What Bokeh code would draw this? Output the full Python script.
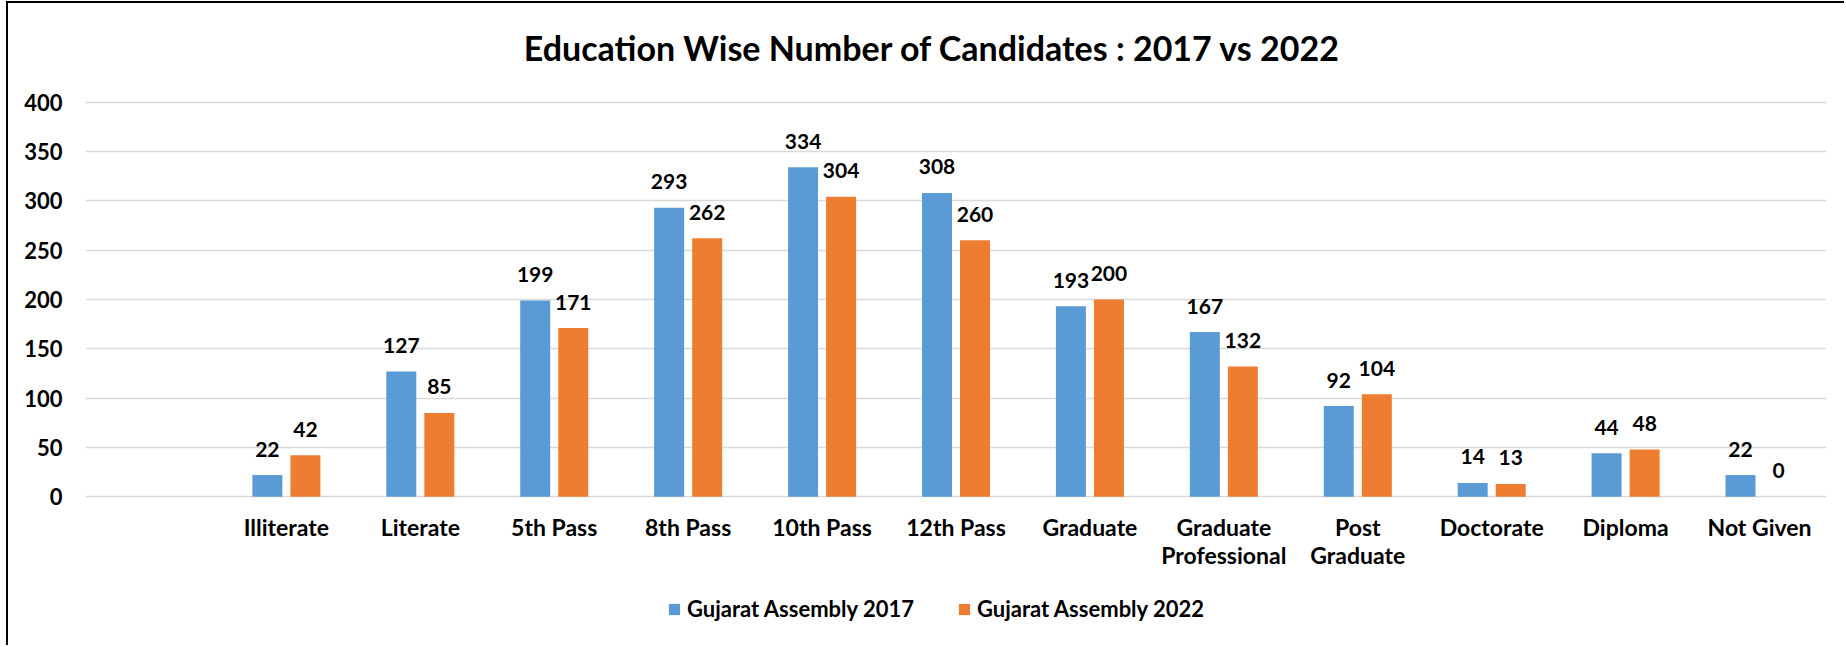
import numpy as np
from bokeh.plotting import figure
from bokeh.models import FixedTicker, Label, Range1d, ColumnDataSource
from bokeh.core.properties import value
from bokeh.embed import file_html
from bokeh.resources import INLINE

categories = ["Illiterate", "Literate", "5th Pass", "8th Pass", "10th Pass", "12th Pass",
              "Graduate", "Graduate\nProfessional", "Post\nGraduate", "Doctorate",
              "Diploma", "Not Given"]
v2017 = [22, 127, 199, 293, 334, 308, 193, 167, 92, 14, 44, 22]
v2022 = [42, 85, 171, 262, 304, 260, 200, 132, 104, 13, 48, 0]
series_names = ["Gujarat Assembly 2017", "Gujarat Assembly 2022"]
y_ticks = [0, 50, 100, 150, 200, 250, 300, 350, 400]
title_text = "Education Wise Number of Candidates : 2017 vs 2022"

BLUE = "#5B9BD5"
ORANGE = "#ED7D31"
FONT = "Lato"

pos = np.arange(1, len(categories) + 1)
off = 0.142
bw = 0.224

src = ColumnDataSource(dict(
    x1=pos - off, x2=pos + off, y1=v2017, y2=v2022,
    t1=[str(v) for v in v2017], t2=[str(v) for v in v2022],
))

W, H = 1838, 644
p = figure(width=W, height=H, output_backend="svg", toolbar_location=None,
           x_range=Range1d(-0.5, len(categories) + 0.5), y_range=Range1d(-152.8, 500.0),
           min_border_left=77, min_border_right=20, min_border_top=0, min_border_bottom=0)
p.styles = {"border-left": "2px solid black", "border-top": "2px solid black",
            "margin-left": "6px", "margin-top": "1px"}
p.outline_line_color = None
p.background_fill_color = "white"
p.border_fill_color = "white"

r1 = p.vbar(x="x1", top="y1", width=bw, source=src, fill_color=BLUE, line_color=None,
            legend_label=series_names[0])
r2 = p.vbar(x="x2", top="y2", width=bw, source=src, fill_color=ORANGE, line_color=None,
            legend_label=series_names[1])

for xs, ts, ys in (("x1", "t1", "y1"), ("x2", "t2", "y2")):
    p.text(x=xs, y=ys, text=ts, source=src, text_align="center", text_baseline="alphabetic",
           y_offset=-26, text_font=value(FONT), text_font_style="bold",
           text_font_size="21px", text_color="black")

# axes
p.yaxis.ticker = FixedTicker(ticks=y_ticks)
p.yaxis.axis_line_color = None
p.yaxis.major_tick_line_color = None
p.yaxis.minor_tick_line_color = None
p.yaxis.major_tick_out = 0
p.yaxis.major_tick_in = 0
p.yaxis.major_label_standoff = 23
p.yaxis.major_label_text_font = FONT
p.yaxis.major_label_text_font_style = "bold"
p.yaxis.major_label_text_font_size = "22px"
p.yaxis.major_label_text_color = "black"

p.xaxis.fixed_location = 0
p.xaxis.ticker = FixedTicker(ticks=list(pos))
p.xaxis.major_label_overrides = {int(i): c for i, c in zip(pos, categories)}
p.xaxis.axis_line_color = None
p.xaxis.major_tick_line_color = None
p.xaxis.minor_tick_line_color = None
p.xaxis.major_tick_out = 0
p.xaxis.major_tick_in = 0
p.xaxis.major_label_standoff = 16
p.xaxis.major_label_text_font = FONT
p.xaxis.major_label_text_font_style = "bold"
p.xaxis.major_label_text_font_size = "23px"
p.xaxis.major_label_text_color = "black"
p.xaxis.major_label_text_line_height = 1.0

p.xgrid.grid_line_color = None
p.ygrid.grid_line_color = "#D9D9D9"
p.ygrid.grid_line_width = 1.5

# legend
lg = p.legend[0]
lg.orientation = "horizontal"
lg.location = (582, 25)
lg.glyph_width = 14
lg.glyph_height = 14
lg.label_standoff = 6
lg.spacing = 43
lg.padding = 0
lg.margin = 0
lg.border_line_color = None
lg.background_fill_alpha = 0
lg.label_text_font = FONT
lg.label_text_font_style = "bold"
lg.label_text_font_size = "22px"
lg.label_text_color = "black"
lg.label_height = 14

title = Label(x=847, y=600, x_units="screen", y_units="screen", text=title_text,
              text_align="center", text_baseline="alphabetic", text_font=FONT,
              text_font_style="bold", text_font_size="34px", text_color="black")
p.add_layout(title)

open("out.html", "w").write(file_html(p, INLINE))
